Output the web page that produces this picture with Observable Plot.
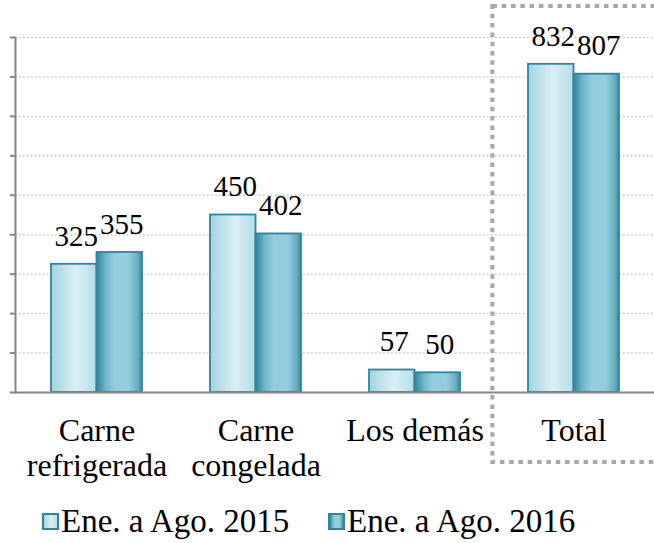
<!DOCTYPE html>
<html>
<head>
<meta charset="utf-8">
<script src="https://cdn.jsdelivr.net/npm/d3@7"></script>
<script src="https://cdn.jsdelivr.net/npm/@observablehq/plot@0.6"></script>
<style>
  html, body { margin: 0; padding: 0; background: #fff; }
  #wrap { position: relative; width: 654px; height: 543px; font-family: "Liberation Serif", "Times New Roman", serif; }
  #legend { position: absolute; left: 0; top: 500px; width: 654px; height: 43px; }
  .item { position: absolute; top: 0; display: flex; align-items: center; height: 43px; font-size: 33px; color: #000; white-space: nowrap; }
  .sw { width: 13px; height: 13px; border: 2px solid #31849b; margin-right: 2px; }
  .sw1 { background: linear-gradient(to right, #a6d6e3 0%, #dbeff5 55%, #b6dee8 100%); }
  .sw2 { background: linear-gradient(to right, #2f8299 0%, #6fb6c8 20%, #92cedd 40%, #93cedd 70%, #6aafc2 90%, #3a8aa0 100%); }
</style>
</head>
<body>
<div id="wrap">
  <div id="chart"></div>
  <div id="legend"></div>
</div>
<script>
const categories = ["Carne\nrefrigerada", "Carne\ncongelada", "Los demás", "Total"];
const series = ["Ene. a Ago. 2015", "Ene. a Ago. 2016"];
const values2015 = [325, 450, 57, 832];
const values2016 = [355, 402, 50, 807];
const yTicks = [0, 100, 200, 300, 400, 500, 600, 700, 800, 900];
const highlighted = ["Total"];

const data2015 = categories.map((c, i) => ({cat: c, series: series[0], value: values2015[i]}));
const data2016 = categories.map((c, i) => ({cat: c, series: series[1], value: values2016[i]}));

const half = 45.5;
const font = "Liberation Serif, Times New Roman, serif";

const defs = () => {
  const d = d3.create("svg:defs");
  const g1 = d.append("linearGradient").attr("id", "g2015").attr("x1", 0).attr("x2", 1).attr("y1", 0).attr("y2", 0);
  [[0, "#a2d4e1"], [0.55, "#dbeff5"], [1, "#b4dde8"]].forEach(([o, c]) => g1.append("stop").attr("offset", o).attr("stop-color", c));
  const g2 = d.append("linearGradient").attr("id", "g2016").attr("x1", 0).attr("x2", 1).attr("y1", 0).attr("y2", 0);
  [[0, "#2f8299"], [0.2, "#6fb6c8"], [0.4, "#92cedd"], [0.7, "#93cedd"], [0.9, "#6aafc2"], [1, "#3a8aa0"]].forEach(([o, c]) => g2.append("stop").attr("offset", o).attr("stop-color", c));
  return d.node();
};

const chart = Plot.plot({
  width: 654,
  height: 490,
  marginTop: 37,
  marginBottom: 98,
  marginLeft: 15,
  marginRight: 0,
  style: {fontFamily: font, background: "#fff", overflow: "visible"},
  x: {domain: categories, paddingInner: 0.43, paddingOuter: 0.215, axis: null, label: null},
  y: {domain: [0, 900], axis: null, label: null},
  marks: [
    defs,
    Plot.gridY(yTicks.slice(1), {stroke: "#c6c6c6", strokeOpacity: 1, strokeWidth: 1.5, strokeDasharray: "1.5 2.5"}),
    Plot.cell(highlighted, {x: d => d, fill: "none", stroke: "#a8a8a8", strokeWidth: 4, strokeDasharray: "4.5 4.8",
      insetLeft: -35.6, insetRight: -42, insetTop: -31, insetBottom: -70}),
    Plot.barY(data2015, {x: "cat", y: "value", insetRight: half, fill: "url(#g2015)", stroke: "#31849b", strokeWidth: 1.8}),
    Plot.barY(data2016, {x: "cat", y: "value", insetLeft: half, fill: "url(#g2016)", stroke: "#31849b", strokeWidth: 1.8}),
    Plot.text(data2015, {x: "cat", y: "value", text: d => String(d.value), dx: -half / 2 + 2, dy: -28, fontSize: 29, fontFamily: font, fill: "#000"}),
    Plot.text(data2016, {x: "cat", y: "value", text: d => String(d.value), dx: half / 2 + 2, dy: -28, fontSize: 29, fontFamily: font, fill: "#000"}),
    Plot.axisY(yTicks, {anchor: "left", label: null, tickSize: 5, tickFormat: () => "", stroke: "#868686", strokeWidth: 2}),
    Plot.frame({anchor: "left", stroke: "#868686", strokeWidth: 2}),
    Plot.ruleY([0], {stroke: "#868686", strokeWidth: 2}),
    Plot.axisX({label: null, tickSize: 0, tickPadding: 23, fontSize: 32, fontFamily: font, lineHeight: 1.1, fill: "#000", tickFormat: d => d})
  ]
});
document.getElementById("chart").appendChild(chart);

const legend = document.getElementById("legend");
const lefts = [42, 328];
series.forEach((s, i) => {
  const it = document.createElement("div");
  it.className = "item";
  it.style.left = lefts[i] + "px";
  const sw = document.createElement("div");
  sw.className = "sw " + (i === 0 ? "sw1" : "sw2");
  const tx = document.createElement("span");
  tx.textContent = s;
  it.appendChild(sw);
  it.appendChild(tx);
  legend.appendChild(it);
});
</script>
</body>
</html>
